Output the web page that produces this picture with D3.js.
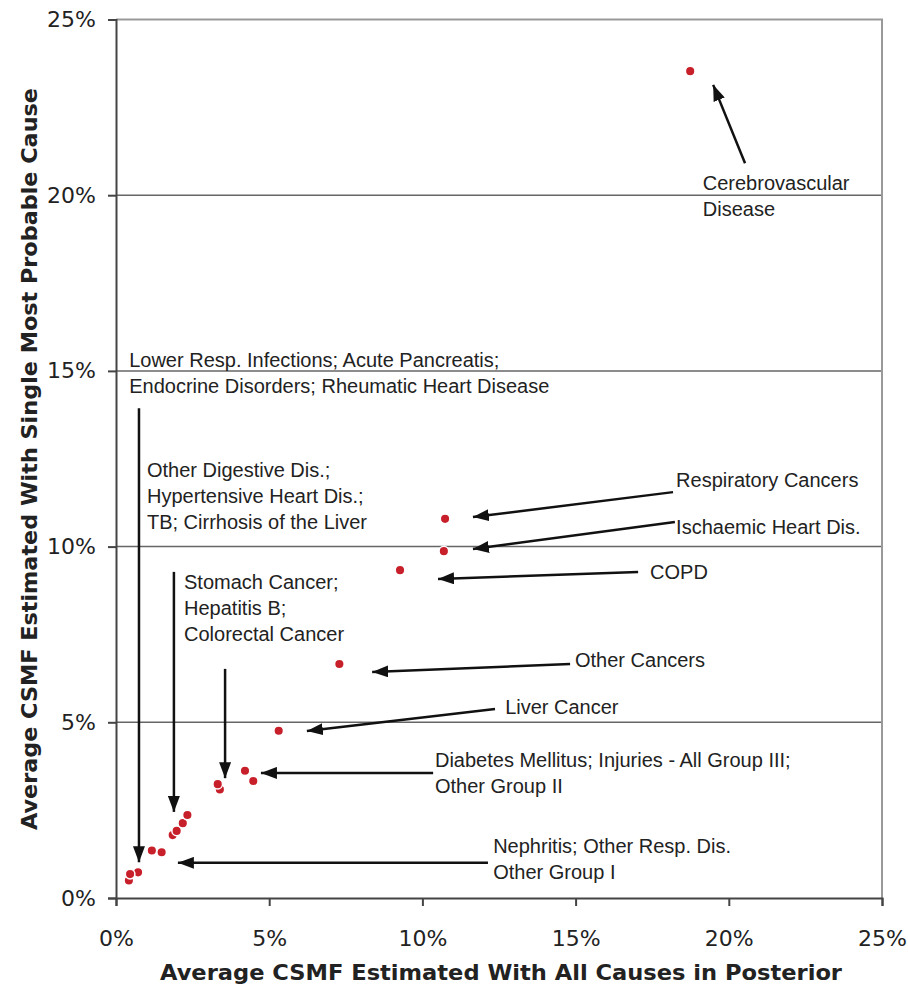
<!DOCTYPE html>
<html>
<head>
<meta charset="utf-8">
<script src="https://cdn.jsdelivr.net/npm/d3@7"></script>
<style>
  body { margin: 0; background: #fff; }
  svg { display: block; }
</style>
</head>
<body>
<div id="main"></div>
<script>
// average CSMF, all causes in posterior (x) vs single most probable cause (y), in %
const csmfAllCauses = [18.74, 10.74, 10.70, 9.27, 7.29, 5.31, 4.21, 4.48, 3.39, 3.32,
                       1.85, 1.98, 2.18, 2.33, 1.17, 1.49, 0.42, 0.72, 0.46];
const csmfSingleCause = [23.53, 10.79, 9.87, 9.33, 6.66, 4.76, 3.62, 3.33, 3.09, 3.24,
                         1.79, 1.91, 2.13, 2.36, 1.35, 1.30, 0.50, 0.73, 0.68];

const tickValues = [0, 5, 10, 15, 20, 25];
const gridValues = [5, 10, 15, 20];

const xTitle = 'Average CSMF Estimated With All Causes in Posterior';
const yTitle = 'Average CSMF Estimated With Single Most Probable Cause';

// callouts, placed in data units
const callouts = [
  {lines: ['Cerebrovascular', 'Disease'], tx: 19.15, ty: 20.15, from: [20.53, 20.91], to: [19.49, 23.14]},
  {lines: ['Lower Resp. Infections; Acute Pancreatis;', 'Endocrine Disorders; Rheumatic Heart Disease'], tx: 0.43, ty: 15.10, from: [0.75, 13.94], to: [0.75, 1.02]},
  {lines: ['Other Digestive Dis.;', 'Hypertensive Heart Dis.;', 'TB; Cirrhosis of the Liver'], tx: 1.01, ty: 11.98, from: [1.89, 9.28], to: [1.89, 2.45]},
  {lines: ['Stomach Cancer;', 'Hepatitis B;', 'Colorectal Cancer'], tx: 2.22, ty: 8.79, from: [3.56, 6.52], to: [3.56, 3.41]},
  {lines: ['Respiratory Cancers'], tx: 18.28, ty: 11.70, from: [18.18, 11.55], to: [11.65, 10.84]},
  {lines: ['Ischaemic Heart Dis.'], tx: 18.28, ty: 10.36, from: [18.24, 10.70], to: [11.65, 9.93]},
  {lines: ['COPD'], tx: 17.43, ty: 9.08, from: [17.04, 9.28], to: [10.51, 9.08]},
  {lines: ['Other Cancers'], tx: 14.98, ty: 6.57, from: [14.82, 6.66], to: [8.36, 6.43]},
  {lines: ['Liver Cancer'], tx: 12.70, ty: 5.24, from: [12.37, 5.38], to: [6.23, 4.75]},
  {lines: ['Diabetes Mellitus; Injuries - All Group III;', 'Other Group II'], tx: 10.41, ty: 3.73, from: [10.35, 3.56], to: [4.73, 3.56]},
  {lines: ['Nephritis; Other Resp. Dis.', 'Other Group I'], tx: 12.31, ty: 1.27, from: [12.14, 1.00], to: [2.02, 1.00]}
];

const width = 908, height = 986;
const svg = d3.select('#main').append('svg').attr('width', width).attr('height', height);

const x = d3.scaleLinear().domain([0, 25]).range([116, 882]);
const y = d3.scaleLinear().domain([0, 25]).range([898, 19.5]);

// gridlines + frame
svg.append('g').selectAll('line').data(gridValues).join('line')
  .attr('x1', x(0)).attr('x2', x(25))
  .attr('y1', d => y(d)).attr('y2', d => y(d))
  .style('stroke', '#666').style('stroke-width', 1.5);

svg.append('path')
  .attr('d', `M${x(0)},${y(25)}H${x(25)}V${y(0)}`)
  .style('fill', 'none').style('stroke', '#999').style('stroke-width', 2);

// axes
const fmt = d => d + '%';
const xAxis = svg.append('g').attr('transform', `translate(0,${y(0)})`)
  .call(d3.axisBottom(x).tickValues(tickValues).tickSize(8).tickFormat(fmt));
const yAxis = svg.append('g').attr('transform', `translate(${x(0)},0)`)
  .call(d3.axisLeft(y).tickValues(tickValues).tickSize(8).tickFormat(fmt));

[xAxis, yAxis].forEach(a => {
  a.select('.domain').style('stroke', '#444').style('stroke-width', 2);
  a.selectAll('.tick line').style('stroke', '#444').style('stroke-width', 2);
  a.selectAll('text').style('font-family', '"DejaVu Sans", Verdana, sans-serif')
    .style('font-size', '22px').style('fill', '#222');
});
xAxis.selectAll('.tick text').attr('y', 0).attr('dy', 0).attr('transform', 'translate(0,48)');
yAxis.selectAll('.tick text').attr('x', -20);

// axis titles
svg.append('text')
  .attr('x', (x(0) + x(25)) / 2 + 2).attr('y', 980)
  .attr('text-anchor', 'middle')
  .attr('textLength', 682).attr('lengthAdjust', 'spacingAndGlyphs')
  .style('font-family', '"DejaVu Sans", Verdana, sans-serif').style('font-weight', 'bold')
  .style('font-size', '22px').style('fill', '#222')
  .text(xTitle);

svg.append('text')
  .attr('transform', `translate(37,${459}) rotate(-90)`)
  .attr('text-anchor', 'middle')
  .attr('textLength', 742).attr('lengthAdjust', 'spacingAndGlyphs')
  .style('font-family', '"DejaVu Sans", Verdana, sans-serif').style('font-weight', 'bold')
  .style('font-size', '22px').style('fill', '#222')
  .text(yTitle);

// arrowhead
svg.append('defs').append('marker')
  .attr('id', 'head').attr('markerUnits', 'userSpaceOnUse')
  .attr('markerWidth', 17).attr('markerHeight', 12)
  .attr('refX', 16).attr('refY', 6).attr('orient', 'auto')
  .append('path').attr('d', 'M0,0L16,6L0,12Z').style('fill', '#111');

const notes = svg.append('g').selectAll('g').data(callouts).join('g');

notes.append('line')
  .attr('x1', d => x(d.from[0])).attr('y1', d => y(d.from[1]))
  .attr('x2', d => x(d.to[0])).attr('y2', d => y(d.to[1]))
  .style('stroke', '#111').style('stroke-width', 2.5)
  .attr('marker-end', 'url(#head)');

notes.append('text')
  .attr('x', d => x(d.tx)).attr('y', d => y(d.ty))
  .style('font-family', '"Liberation Sans", Arial, sans-serif')
  .style('font-size', '20px').style('fill', '#222')
  .selectAll('tspan').data(d => d.lines.map(l => ({l, tx: d.tx}))).join('tspan')
  .attr('x', d => x(d.tx)).attr('dy', (d, i) => i ? 26 : 0)
  .text(d => d.l);

// points
svg.append('g').selectAll('circle').data(csmfAllCauses).join('circle')
  .attr('cx', d => x(d))
  .attr('cy', (d, i) => y(csmfSingleCause[i]))
  .attr('r', 4.8)
  .style('fill', '#c8202b')
  .style('stroke', '#fff').style('stroke-width', 1.5);
</script>
</body>
</html>
